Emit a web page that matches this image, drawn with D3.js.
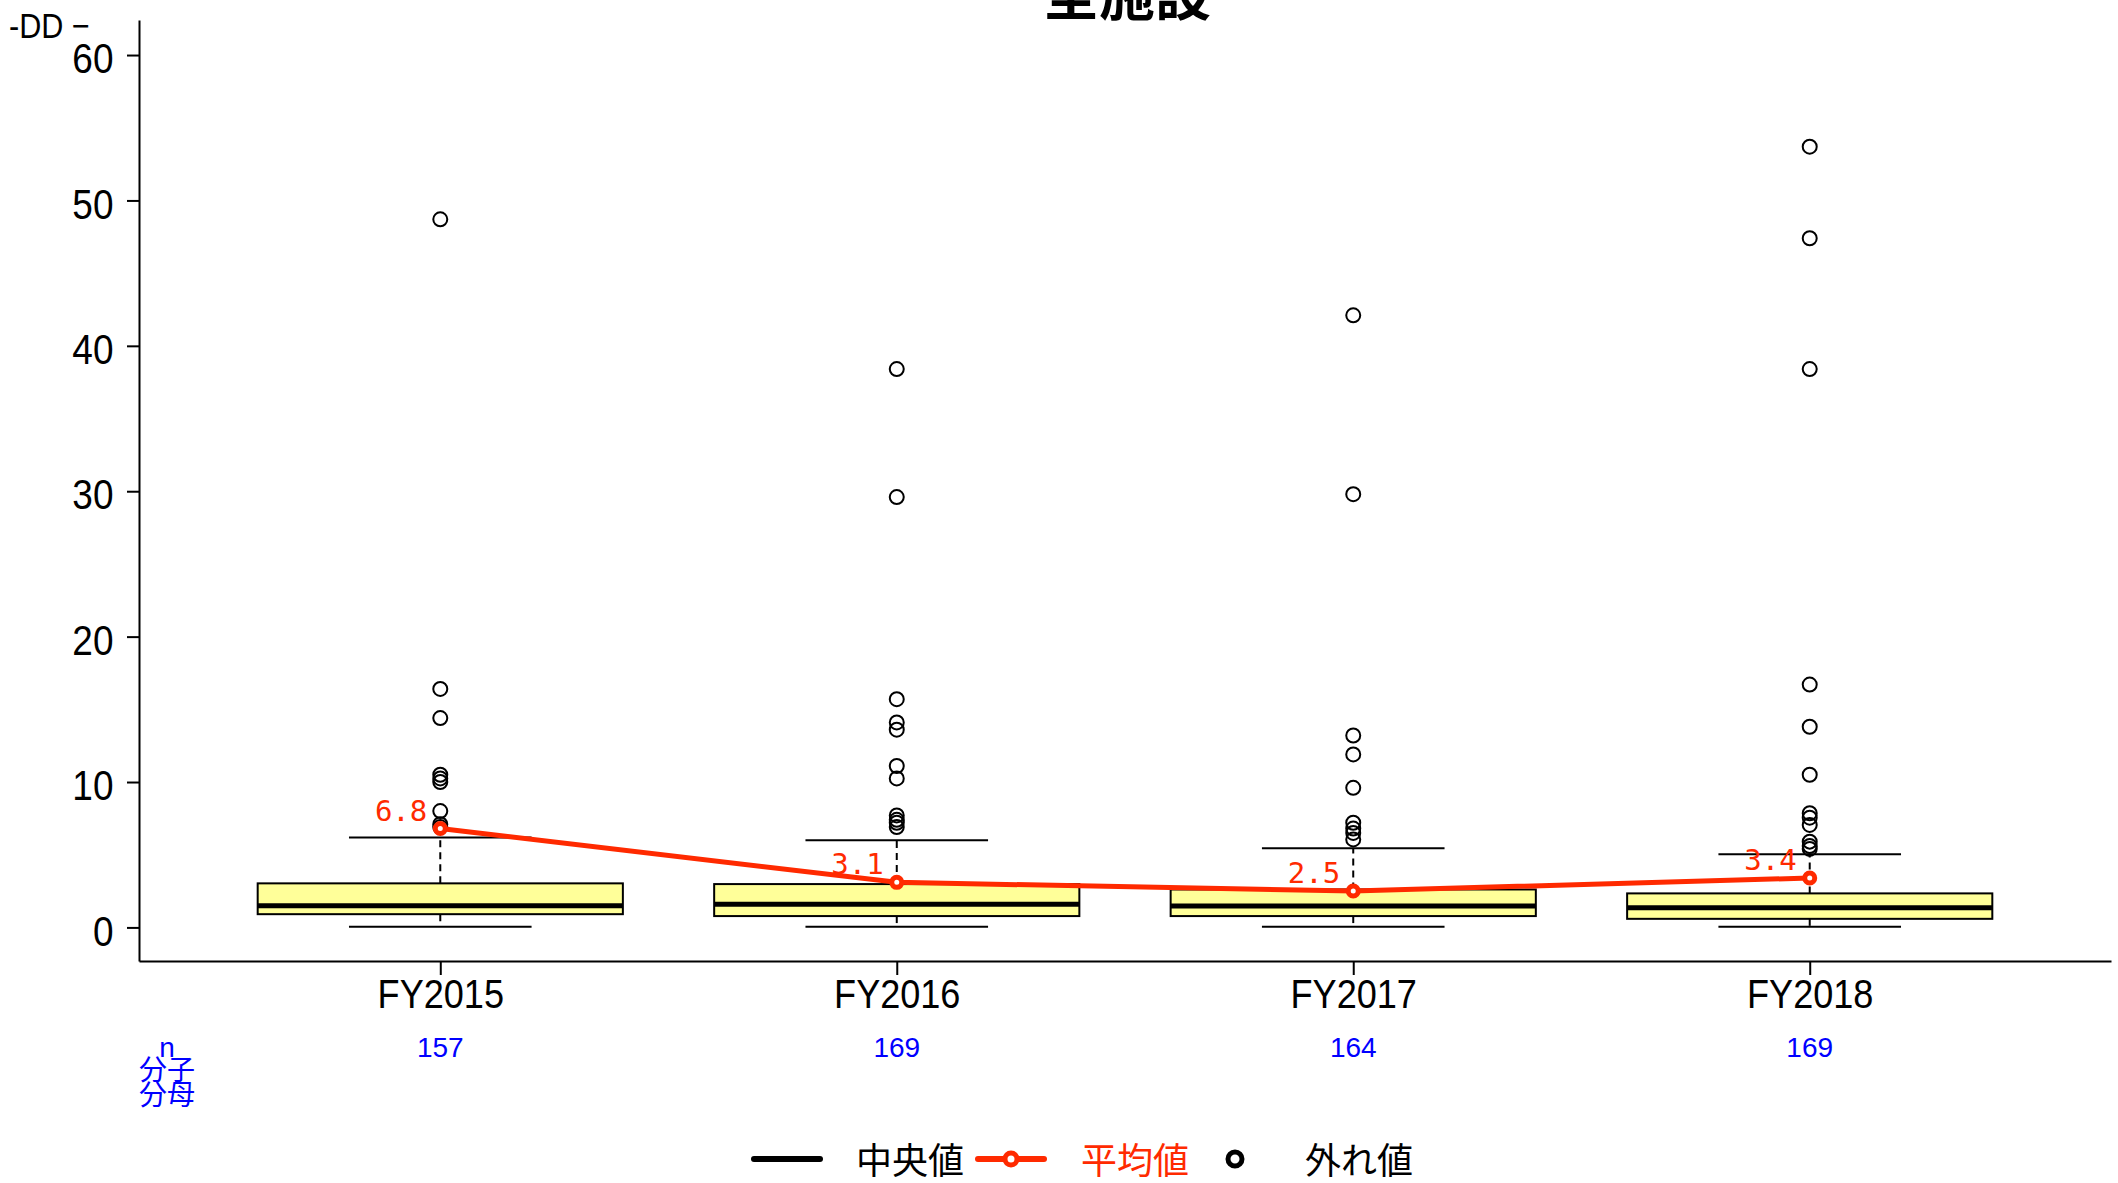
<!DOCTYPE html>
<html>
<head>
<meta charset="utf-8">
<script src="https://cdn.jsdelivr.net/npm/d3@7"></script>
<style>
  html, body { margin: 0; padding: 0; background: #fff; overflow: hidden; }
  svg { display: block; }
  text { font-family: "Liberation Sans", Arial, sans-serif; }
  text.cjk { font-family: "Noto Sans CJK JP", "Noto Sans CJK SC", sans-serif; }
  text.mono { font-family: "DejaVu Sans Mono", monospace; }
</style>
</head>
<body>
<script>
// ---------------- data ----------------
const categories = ["FY2015", "FY2016", "FY2017", "FY2018"];
const nCounts = [157, 169, 164, 169];
const whiskerLow = [0.04, 0.04, 0.04, 0.04];
const q1 = [0.91, 0.78, 0.78, 0.59];
const medians = [1.49, 1.60, 1.47, 1.35];
const q3 = [3.03, 2.98, 2.61, 2.34];
const whiskerHigh = [6.19, 6.00, 5.45, 5.04];
const means = [6.8, 3.1, 2.5, 3.4];
const outliers2015 = [48.7, 16.4, 14.4, 10.5, 10.25, 10.0, 8.0, 7.1, 6.9];
const outliers2016 = [38.4, 29.6, 15.7, 14.1, 13.6, 11.1, 10.25, 7.7, 7.4, 7.2, 6.9];
const outliers2017 = [42.1, 29.8, 13.2, 11.9, 9.6, 7.2, 6.8, 6.5, 6.05];
const outliers2018 = [53.7, 47.4, 38.4, 16.7, 13.8, 10.5, 7.85, 7.55, 7.05, 5.9, 5.6, 5.4];
const yTicks = [0, 10, 20, 30, 40, 50, 60];
const titleText = "全施設";
const yLabelText = "-DD \u2212";
const nLabelLines = ["n", "分子", "分母"];
const legendLabels = ["中央値", "平均値", "外れ値"];

const outliers = [outliers2015, outliers2016, outliers2017, outliers2018];

// ---------------- layout ----------------
const W = 2118, H = 1183;
const svg = d3.select("body").append("svg").attr("width", W).attr("height", H);

const x = d3.scaleLinear().domain([0.34, 4.66]).range([139, 2111]);
const y = d3.scaleLinear().domain([-2.31, 62.41]).range([961, 20]);
const pos = i => x(i + 1);
const boxHalf = 0.4, capHalf = 0.2;
const RED = "#ff2a00", YELLOW = "#ffff99", BLUE = "#0000ff";

// title
svg.append("text").attr("class", "cjk")
  .attr("x", 1127).attr("y", 15)
  .attr("text-anchor", "middle")
  .attr("font-size", 56).attr("font-weight", "bold")
  .text(titleText);

// y label (partially clipped in the original)
svg.append("text")
  .attr("transform", "translate(9,38) scale(0.85,1)")
  .attr("font-size", 36)
  .text(yLabelText);

// axes
const yAxis = d3.axisLeft(y).tickValues(yTicks).tickSize(12).tickSizeOuter(0).tickPadding(17);
const gy = svg.append("g").attr("transform", "translate(139,0)").call(yAxis);
gy.select(".domain").attr("stroke", "#000").attr("stroke-width", 2);
gy.selectAll(".tick line").attr("stroke", "#000").attr("stroke-width", 2);
gy.selectAll(".tick text").attr("font-size", 42).attr("fill", "#000")
  .attr("dy", "0.42em").attr("transform", "scale(0.88,1)");

const xAxis = d3.axisBottom(x).tickValues([1, 2, 3, 4])
  .tickFormat(d => categories[d - 1]).tickSize(14).tickSizeOuter(0).tickPadding(4);
const gx = svg.append("g").attr("transform", "translate(0,961)").call(xAxis);
gx.select(".domain").attr("stroke", "#000").attr("stroke-width", 2);
gx.selectAll(".tick line").attr("stroke", "#000").attr("stroke-width", 2);
gx.selectAll(".tick text").attr("font-size", 41).attr("fill", "#000")
  .attr("transform", "scale(0.88,1)");

// boxes
const plot = svg.append("g");
categories.forEach((c, i) => {
  const cx = pos(i);
  const g = plot.append("g");
  // dashed whiskers
  g.append("line").attr("x1", cx).attr("x2", cx).attr("y1", y(q3[i])).attr("y2", y(whiskerHigh[i]))
    .attr("stroke", "#000").attr("stroke-width", 2).attr("stroke-dasharray", "7,5");
  g.append("line").attr("x1", cx).attr("x2", cx).attr("y1", y(q1[i])).attr("y2", y(whiskerLow[i]))
    .attr("stroke", "#000").attr("stroke-width", 2).attr("stroke-dasharray", "7,5");
  // caps
  [whiskerHigh[i], whiskerLow[i]].forEach(v => {
    g.append("line").attr("x1", x(i + 1 - capHalf)).attr("x2", x(i + 1 + capHalf))
      .attr("y1", y(v)).attr("y2", y(v)).attr("stroke", "#000").attr("stroke-width", 2);
  });
  // box
  g.append("rect").attr("x", x(i + 1 - boxHalf)).attr("width", x(i + 1 + boxHalf) - x(i + 1 - boxHalf))
    .attr("y", y(q3[i])).attr("height", y(q1[i]) - y(q3[i]))
    .attr("fill", YELLOW).attr("stroke", "#000").attr("stroke-width", 2);
  // median
  g.append("line").attr("x1", x(i + 1 - boxHalf)).attr("x2", x(i + 1 + boxHalf))
    .attr("y1", y(medians[i])).attr("y2", y(medians[i]))
    .attr("stroke", "#000").attr("stroke-width", 5);
  // outliers
  g.selectAll("circle.out").data(outliers[i]).enter().append("circle")
    .attr("class", "out").attr("cx", cx).attr("cy", d => y(d)).attr("r", 7)
    .attr("fill", "none").attr("stroke", "#000").attr("stroke-width", 2);
});

// mean line
const line = d3.line().x((d, i) => pos(i)).y(d => y(d));
svg.append("path").datum(means).attr("d", line)
  .attr("fill", "none").attr("stroke", RED).attr("stroke-width", 5);
svg.selectAll("circle.mean").data(means).enter().append("circle")
  .attr("class", "mean").attr("cx", (d, i) => pos(i)).attr("cy", d => y(d)).attr("r", 5)
  .attr("fill", "#fff").attr("stroke", RED).attr("stroke-width", 5);
svg.selectAll("text.meanlab").data(means).enter().append("text")
  .attr("class", "meanlab mono").attr("x", (d, i) => pos(i) - 13).attr("y", d => y(d) - 8)
  .attr("text-anchor", "end").attr("font-size", 29).attr("fill", RED)
  .text(d => d.toFixed(1));

// n labels
svg.selectAll("text.nlab").data(nCounts).enter().append("text")
  .attr("class", "nlab").attr("x", (d, i) => pos(i)).attr("y", 1057)
  .attr("text-anchor", "middle").attr("font-size", 28).attr("fill", BLUE)
  .text(d => d);
const nY = [1057, 1080, 1105];
nLabelLines.forEach((t, k) => {
  svg.append("text").attr("class", k ? "cjk" : null)
    .attr("x", 167).attr("y", nY[k]).attr("text-anchor", "middle")
    .attr("font-size", 28).attr("fill", BLUE).text(t);
});

// legend
const lg = svg.append("g");
const ly = 1159;
lg.append("line").attr("x1", 754).attr("x2", 820).attr("y1", ly).attr("y2", ly)
  .attr("stroke", "#000").attr("stroke-width", 6).attr("stroke-linecap", "round");
lg.append("text").attr("class", "cjk").attr("x", 856).attr("y", ly + 15)
  .attr("font-size", 36).attr("fill", "#000").text(legendLabels[0]);
lg.append("line").attr("x1", 978).attr("x2", 1044).attr("y1", ly).attr("y2", ly)
  .attr("stroke", RED).attr("stroke-width", 6).attr("stroke-linecap", "round");
lg.append("circle").attr("cx", 1011).attr("cy", ly).attr("r", 6)
  .attr("fill", "#fff").attr("stroke", RED).attr("stroke-width", 5);
lg.append("text").attr("class", "cjk").attr("x", 1081).attr("y", ly + 15)
  .attr("font-size", 36).attr("fill", RED).text(legendLabels[1]);
lg.append("circle").attr("cx", 1235).attr("cy", ly).attr("r", 7)
  .attr("fill", "none").attr("stroke", "#000").attr("stroke-width", 5);
lg.append("text").attr("class", "cjk").attr("x", 1305).attr("y", ly + 15)
  .attr("font-size", 36).attr("fill", "#000").text(legendLabels[2]);
</script>
</body>
</html>
